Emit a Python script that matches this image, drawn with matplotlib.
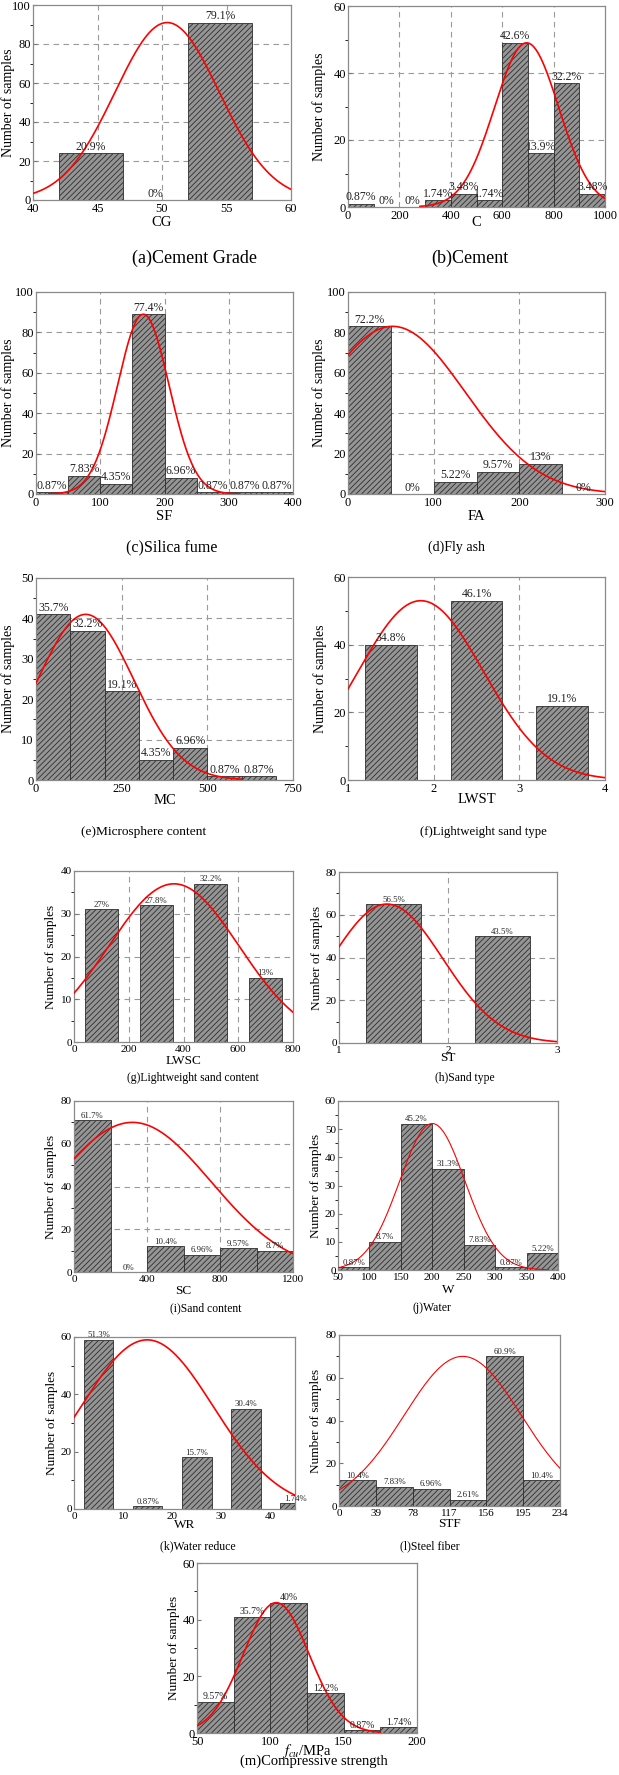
import numpy as np
import matplotlib
matplotlib.use('Agg')
import matplotlib.pyplot as plt
from matplotlib.ticker import MultipleLocator

plt.rcParams['font.family'] = ['Liberation Serif', 'DejaVu Serif']
plt.rcParams['mathtext.fontset'] = 'stix'
plt.rcParams['hatch.linewidth'] = 0.6

W, H = 619, 1775

# (a) cement grade
cg_left = [42, 47, 52]
cg_width = 5
cg_counts = [24, 0, 91]
cg_pct = ['20.9%', '0%', '79.1%']

# (b) cement
c_left = [0, 100, 200, 300, 400, 500, 600, 700, 800, 900]
c_width = 100
c_counts = [1, 0, 0, 2, 4, 2, 49, 16, 37, 4]
c_pct = ['0.87%', '0%', '0%', '1.74%', '3.48%', '1.74%', '42.6%', '13.9%', '32.2%', '3.48%']

# (c) silica fume
sf_left = [0, 50, 100, 150, 200, 250, 300, 350]
sf_width = 50
sf_counts = [1, 9, 5, 89, 8, 1, 1, 1]
sf_pct = ['0.87%', '7.83%', '4.35%', '77.4%', '6.96%', '0.87%', '0.87%', '0.87%']

# (d) fly ash
fa_left = [0, 50, 100, 150, 200, 250]
fa_width = 50
fa_counts = [83, 0, 6, 11, 15, 0]
fa_pct = ['72.2%', '0%', '5.22%', '9.57%', '13%', '0%']

# (e) microsphere content
mc_left = [0, 100, 200, 300, 400, 500, 600]
mc_width = 100
mc_counts = [41, 37, 22, 5, 8, 1, 1]
mc_pct = ['35.7%', '32.2%', '19.1%', '4.35%', '6.96%', '0.87%', '0.87%']

# (f) lightweight sand type
lwst_left = [1.2, 2.2, 3.2]
lwst_width = 0.6
lwst_counts = [40, 53, 22]
lwst_pct = ['34.8%', '46.1%', '19.1%']

# (g) lightweight sand content
lwsc_left = [40, 240, 440, 640]
lwsc_width = 120
lwsc_counts = [31, 32, 37, 15]
lwsc_pct = ['27%', '27.8%', '32.2%', '13%']

# (h) sand type
st_left = [1.25, 2.25]
st_width = 0.5
st_counts = [65, 50]
st_pct = ['56.5%', '43.5%']

# (i) sand content
sc_left = [0, 200, 400, 600, 800, 1000]
sc_width = 200
sc_counts = [71, 0, 12, 8, 11, 10]
sc_pct = ['61.7%', '0%', '10.4%', '6.96%', '9.57%', '8.7%']

# (j) water
w_left = [50, 100, 150, 200, 250, 300, 350]
w_width = 50
w_counts = [1, 10, 52, 36, 9, 1, 6]
w_pct = ['0.87%', '8.7%', '45.2%', '31.3%', '7.83%', '0.87%', '5.22%']

# (k) water reducer
wr_left = [2, 12, 22, 32, 42]
wr_width = 6
wr_counts = [59, 1, 18, 35, 2]
wr_pct = ['51.3%', '0.87%', '15.7%', '30.4%', '1.74%']

# (l) steel fiber
stf_left = [0, 39, 78, 117, 156, 195]
stf_width = 39
stf_counts = [12, 9, 8, 3, 70, 12]
stf_pct = ['10.4%', '7.83%', '6.96%', '2.61%', '60.9%', '10.4%']

# (m) compressive strength
fcu_left = [50, 75, 100, 125, 150, 175]
fcu_width = 25
fcu_counts = [11, 41, 46, 14, 1, 2]
fcu_pct = ['9.57%', '35.7%', '40%', '12.2%', '0.87%', '1.74%']

# fitted normal curves: mean, std, peak, x from, x to
fits = {
    'a': (50.4, 4.05, 91, 40, 60),
    'b': (695, 125, 49, 280, 1000),
    'c': (167, 40, 89, 20, 315),
    'd': (52, 85, 83, 0, 300),
    'e': (145, 140, 41, 0, 600),
    'f': (1.85, 0.73, 53, 1, 4),
    'g': (365, 238, 37, 0, 800),
    'h': (1.44, 0.513, 65, 1, 3),
    'i': (320, 429, 70, 0, 1200),
    'j': (200, 52, 52, 50, 385),
    'k': (14.9, 13.45, 59, 0, 45),
    'l': (131, 62, 70, 0, 234),
    'm': (104, 22.4, 46, 50, 175),
}

fig = plt.figure(figsize=(W / 100, H / 100), dpi=100)

TOP = dict(tick=9, xlab=10.5, ylab=10, pct=8.5)
LOW = dict(tick=8, xlab=9.5, ylab=9.5, pct=6.3)


def panel(key, rect, left, width, counts, pct, xlim, ylim, xticks, yticks,
          xlabel, caption, cap, ylab_x, xlab_y, fs, grid=True, lw=1.2):
    l, t, r, b = rect
    ax = fig.add_axes([l / W, 1 - b / H, (r - l) / W, (b - t) / H])
    ax.set_axisbelow(True)
    if grid:
        for x in xticks[1:-1]:
            ax.axvline(x, color='#9a9a9a', lw=0.8, ls=(0, (5, 4)), zorder=0)
        for y in yticks[1:-1]:
            ax.axhline(y, color='#9a9a9a', lw=0.8, ls=(0, (5, 4)), zorder=0)
    ax.bar(left, counts, width=width, align='edge', facecolor='#959595',
           edgecolor='#2e2e2e', hatch='//////', linewidth=0.6, zorder=2)
    for x0, h, p in zip(left, counts, pct):
        ax.annotate(p, (x0 + width / 2, h), xytext=(0, 0.3), textcoords='offset points',
                    ha='center', va='bottom', fontsize=fs['pct'], color='#222222',
                    annotation_clip=False, zorder=4)
    mu, sd, pk, x1, x2 = fits[key]
    xs = np.linspace(x1, x2, 300)
    ax.plot(xs, pk * np.exp(-(xs - mu) ** 2 / (2 * sd ** 2)), color='red', lw=lw, zorder=3)
    ax.set_xlim(*xlim)
    ax.set_ylim(*ylim)
    ax.set_xticks(xticks)
    ax.set_yticks(yticks)
    ax.yaxis.set_minor_locator(MultipleLocator((yticks[1] - yticks[0]) / 2))
    ax.tick_params(direction='in', labelsize=fs['tick'], length=3, color='#777777', pad=1.5)
    ax.tick_params(axis='x', which='both', length=0, pad=2)
    ax.tick_params(axis='y', which='minor', length=2)
    for s in ax.spines.values():
        s.set_color('#8a8a8a')
        s.set_linewidth(0.9)
    ax.set_xlabel(xlabel, fontsize=fs['xlab'], va='center')
    ax.xaxis.set_label_coords(0.5, -(xlab_y - b) / (b - t))
    ax.set_ylabel('Number of samples', fontsize=fs['ylab'], va='center')
    ax.yaxis.set_label_coords((ylab_x - l) / (r - l), 0.5)
    fig.text(cap[0] / W, 1 - cap[1] / H, caption, ha='center', va='center', fontsize=cap[2])
    return ax


panel('a', (33, 5, 291, 200), cg_left, cg_width, cg_counts, cg_pct, (40, 60), (0, 100),
      [40, 45, 50, 55, 60], [0, 20, 40, 60, 80, 100], 'CG', '(a)Cement Grade',
      (195, 258, 13), 8, 222, TOP)
panel('b', (348, 6, 605, 207), c_left, c_width, c_counts, c_pct, (0, 1000), (0, 60),
      [0, 200, 400, 600, 800, 1000], [0, 20, 40, 60], 'C', '(b)Cement',
      (470, 258, 13), 319, 223, TOP)
panel('c', (36, 292, 293, 494), sf_left, sf_width, sf_counts, sf_pct, (0, 400), (0, 100),
      [0, 100, 200, 300, 400], [0, 20, 40, 60, 80, 100], 'SF', '(c)Silica fume',
      (172, 547, 11.5), 8, 516, TOP)
panel('d', (348, 292, 605, 494), fa_left, fa_width, fa_counts, fa_pct, (0, 300), (0, 100),
      [0, 100, 200, 300], [0, 20, 40, 60, 80, 100], 'FA', '(d)Fly ash',
      (456, 547, 10), 319, 516, TOP)
panel('e', (36, 578, 293, 780), mc_left, mc_width, mc_counts, mc_pct, (0, 750), (0, 50),
      [0, 250, 500, 750], [0, 10, 20, 30, 40, 50], 'MC', '(e)Microsphere content',
      (144, 832, 9.6), 8, 800, TOP)
panel('f', (348, 577, 605, 780), lwst_left, lwst_width, lwst_counts, lwst_pct, (1, 4), (0, 60),
      [1, 2, 3, 4], [0, 20, 40, 60], 'LWST', '(f)Lightweight sand type',
      (483, 832, 9.2), 320, 799, TOP)
panel('g', (74, 871, 293, 1042), lwsc_left, lwsc_width, lwsc_counts, lwsc_pct, (0, 800), (0, 40),
      [0, 200, 400, 600, 800], [0, 10, 20, 30, 40], 'LWSC', '(g)Lightweight sand content',
      (193, 1078, 8.4), 51, 1061, LOW)
panel('h', (339, 872, 557, 1043), st_left, st_width, st_counts, st_pct, (1, 3), (0, 80),
      [1, 2, 3], [0, 20, 40, 60, 80], 'ST', '(h)Sand type',
      (465, 1078, 8.4), 317, 1058, LOW)
panel('i', (74, 1101, 293, 1272), sc_left, sc_width, sc_counts, sc_pct, (0, 1200), (0, 80),
      [0, 400, 800, 1200], [0, 20, 40, 60, 80], 'SC', '(i)Sand content',
      (206, 1308, 8.4), 51, 1291, LOW)
panel('j', (338, 1101, 558, 1270), w_left, w_width, w_counts, w_pct, (50, 400), (0, 60),
      [50, 100, 150, 200, 250, 300, 350, 400], [0, 10, 20, 30, 40, 50, 60], 'W', '(j)Water',
      (432, 1308, 8.5), 316, 1290, LOW, grid=False, lw=0.8)
panel('k', (74, 1337, 295, 1509), wr_left, wr_width, wr_counts, wr_pct, (0, 45), (0, 60),
      [0, 10, 20, 30, 40], [0, 20, 40, 60], 'WR', '(k)Water reduce',
      (198, 1546, 8.5), 52, 1525, LOW, grid=False)
panel('l', (339, 1335, 560, 1506), stf_left, stf_width, stf_counts, stf_pct, (0, 234), (0, 80),
      [0, 39, 78, 117, 156, 195, 234], [0, 20, 40, 60, 80], 'STF', '(l)Steel fiber',
      (430, 1546, 8.5), 316, 1524, LOW, grid=False, lw=0.8)
panel('m', (197, 1563, 417, 1733), fcu_left, fcu_width, fcu_counts, fcu_pct, (50, 200), (0, 60),
      [50, 100, 150, 200], [0, 20, 40, 60], r'$f_{cu}$/MPa', '(m)Compressive strength',
      (314, 1761, 10.5), 174, 1751, dict(LOW, tick=9, xlab=10.5, pct=7), grid=False)

fig.savefig('out.png', dpi=100)
